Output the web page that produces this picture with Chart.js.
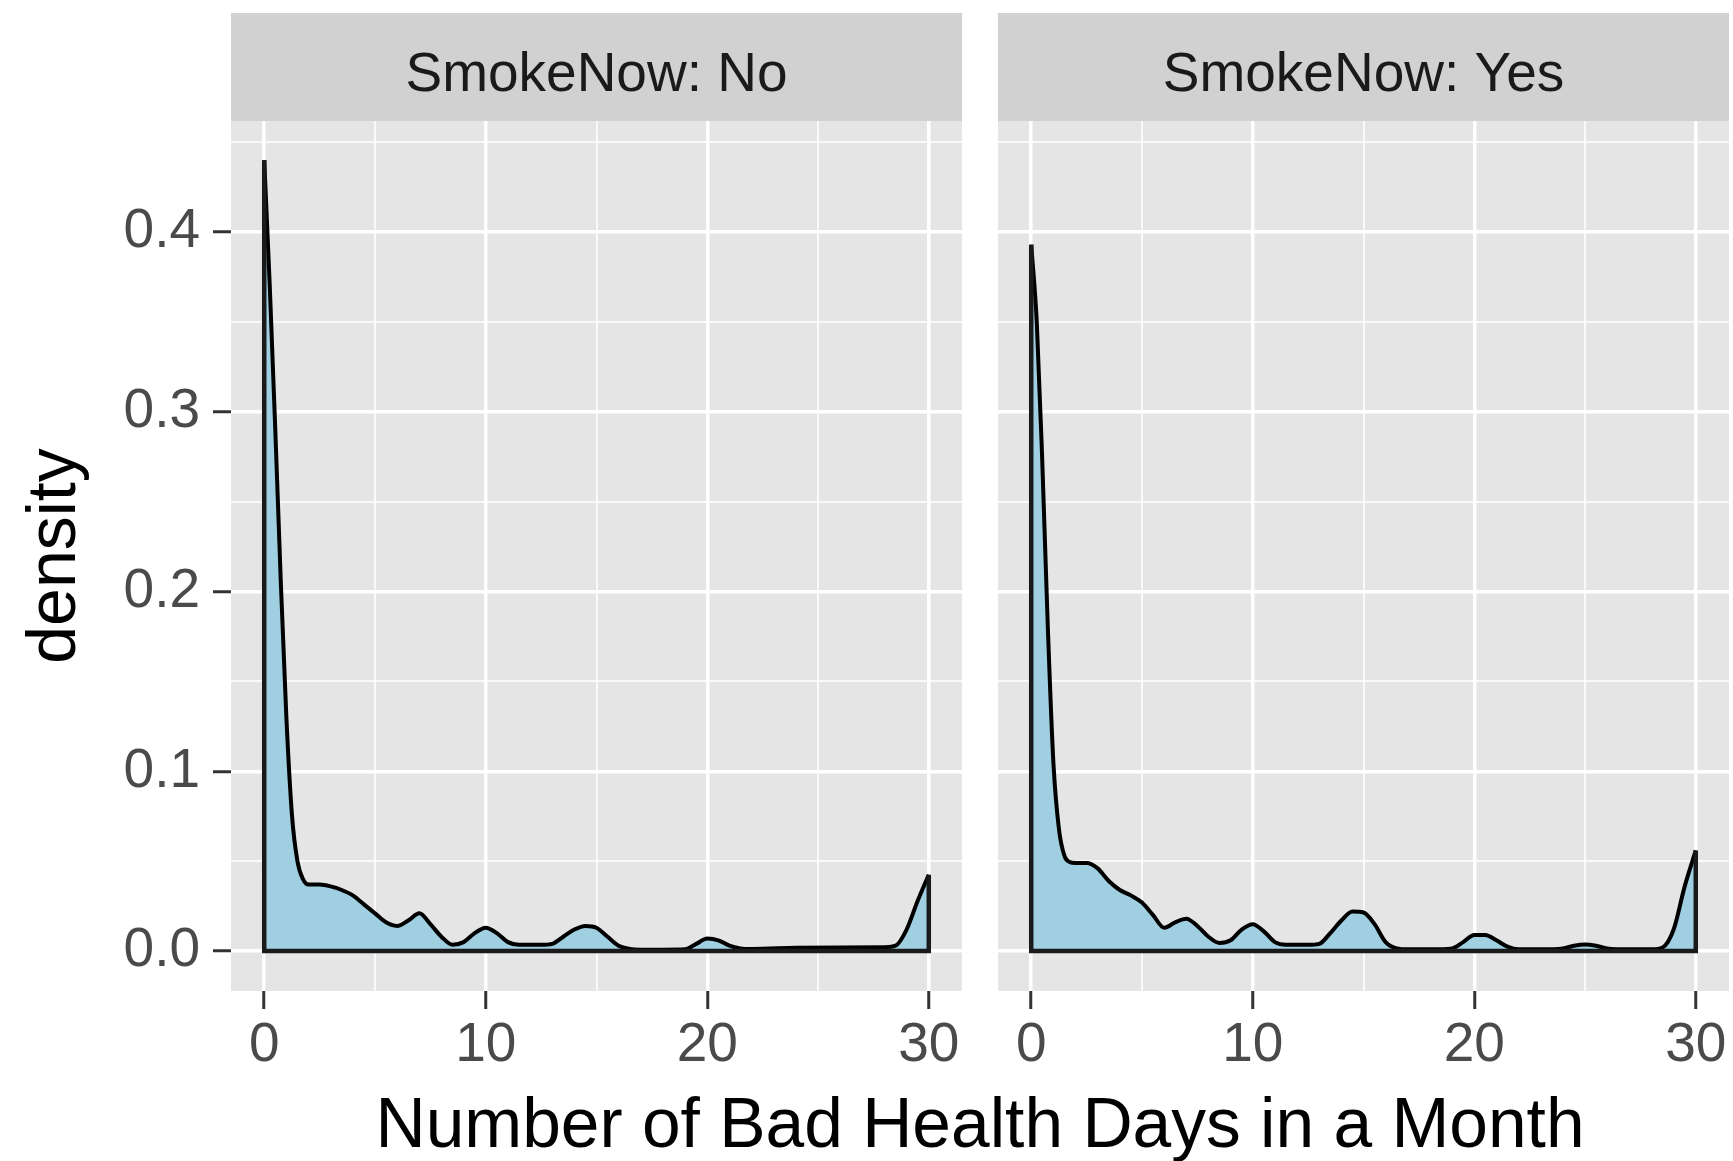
<!DOCTYPE html>
<html><head><meta charset="utf-8">
<script src="https://cdn.jsdelivr.net/npm/chart.js@4.4.1/dist/chart.umd.min.js"></script>
<style>
html,body{margin:0;padding:0;background:#fff;overflow:hidden;width:1733px;height:1161px;}
#wrapA{position:absolute;left:0;top:0;width:980px;height:1161px;}
#wrapB{position:absolute;left:980px;top:0;width:753px;height:1161px;}
#xtitle{position:absolute;left:230px;width:1500px;top:1089px;height:69px;line-height:69px;text-align:center;font-family:"Liberation Sans",Arial,sans-serif;font-size:69.5px;color:#000;white-space:nowrap;}
</style></head><body>
<div id="wrapA"><canvas id="cA" width="980" height="1161"></canvas></div>
<div id="wrapB"><canvas id="cB" width="753" height="1161"></canvas></div>
<div id="xtitle"></div>
<script>
// ---- data ----
const panelLabels = ["SmokeNow: No", "SmokeNow: Yes"];
const xTitle = "Number of Bad Health Days in a Month";
const yTitle = "density";

const daysNo = [0, 0.25, 0.5, 0.75, 1.0, 1.25, 1.5, 1.75, 2.0, 2.5, 3.0, 3.5, 4.0, 4.5, 5.0, 5.5, 6.0, 6.5, 7.0, 7.5, 8.0, 8.5, 9.0, 9.5, 10.0, 10.5, 11.0, 11.5, 12.0, 12.5, 13.0, 13.5, 14.0, 14.5, 15.0, 15.5, 16.0, 16.5, 17, 18, 19, 19.5, 20.0, 20.5, 21.0, 21.5, 22, 24, 26, 28, 28.5, 29.0, 29.5, 30];
const densityNo = [0.440, 0.370, 0.290, 0.205, 0.130, 0.076, 0.050, 0.040, 0.037, 0.037, 0.036, 0.034, 0.031, 0.026, 0.021, 0.016, 0.014, 0.017, 0.021, 0.015, 0.008, 0.0035, 0.005, 0.010, 0.013, 0.010, 0.005, 0.0035, 0.0035, 0.0035, 0.004, 0.008, 0.012, 0.014, 0.013, 0.008, 0.003, 0.0012, 0.0008, 0.0008, 0.001, 0.004, 0.007, 0.006, 0.003, 0.0015, 0.0012, 0.0018, 0.002, 0.0022, 0.003, 0.012, 0.028, 0.0425];

const daysYes = [0, 0.25, 0.5, 0.75, 1.0, 1.25, 1.5, 1.75, 2.0, 2.5, 3.0, 3.5, 4.0, 4.5, 5.0, 5.5, 6.0, 6.5, 7.0, 7.5, 8.0, 8.5, 9.0, 9.5, 10.0, 10.5, 11.0, 11.5, 12.0, 12.5, 13.0, 13.5, 14.0, 14.5, 15.0, 15.5, 16.0, 16.5, 17, 18, 19, 19.5, 20, 20.5, 21, 21.5, 22, 23, 24, 24.5, 25, 25.5, 26, 27, 28, 28.5, 29, 29.5, 30];
const densityYes = [0.393, 0.350, 0.272, 0.180, 0.105, 0.068, 0.053, 0.0495, 0.049, 0.049, 0.046, 0.039, 0.034, 0.031, 0.027, 0.020, 0.013, 0.016, 0.018, 0.014, 0.008, 0.0045, 0.006, 0.012, 0.015, 0.011, 0.005, 0.0035, 0.0035, 0.0035, 0.004, 0.010, 0.017, 0.022, 0.0215, 0.015, 0.005, 0.0015, 0.001, 0.001, 0.0015, 0.005, 0.009, 0.009, 0.006, 0.0025, 0.001, 0.001, 0.0015, 0.003, 0.0037, 0.003, 0.0015, 0.001, 0.001, 0.002, 0.012, 0.036, 0.056];

const xMajorTicks = [0, 10, 20, 30];
const xMinorTicks = [5, 15, 25];
const yMajorTicks = [0, 0.1, 0.2, 0.3, 0.4];
const yMinorTicks = [0.05, 0.15, 0.25, 0.35, 0.45];
const xRange = [-1.5, 31.5];
const yRange = [-0.0222, 0.4618];

// ---- styling ----
const FONT = '"Liberation Sans", Arial, Helvetica, sans-serif';
const PANEL_BG = '#E5E5E5';
const STRIP_BG = '#D1D1D1';
const FILL = '#9FCFE0';
document.getElementById('xtitle').textContent = xTitle;

function tickList(major, minor) {
  return major.map(v => ({value: v, isMinor: false}))
    .concat(minor.map(v => ({value: v, isMinor: true})))
    .sort((a, b) => a.value - b.value);
}

const panelPlugin = {
  id: 'panelDecor',
  beforeDraw(chart, args, opts) {
    const {ctx, chartArea} = chart;
    ctx.save();
    ctx.fillStyle = PANEL_BG;
    ctx.fillRect(chartArea.left, chartArea.top, chartArea.right - chartArea.left, chartArea.bottom - chartArea.top);
    ctx.fillStyle = STRIP_BG;
    ctx.fillRect(chartArea.left, 13, chartArea.right - chartArea.left, chartArea.top - 13);
    ctx.fillStyle = '#1A1A1A';
    ctx.font = '55px ' + FONT;
    ctx.textAlign = 'center';
    ctx.textBaseline = 'alphabetic';
    ctx.fillText(opts.label, (chartArea.left + chartArea.right) / 2, 91);
    ctx.restore();
  }
};

function makePanel(id, xs, ys, label, isLeft, padRight, yAxisWidth) {
  const curve = xs.map((x, i) => ({x: x, y: ys[i]}));
  const n = xs.length - 1;
  const edges = [
    {x: xs[0], y: ys[0]}, {x: xs[0], y: 0},
    {x: xs[n], y: 0}, {x: xs[n], y: ys[n]}
  ];
  return new Chart(document.getElementById(id), {
    type: 'line',
    data: {
      datasets: [
        {data: edges, borderColor: '#1a1a1a', borderWidth: 4.5, fill: false, pointRadius: 0,
         tension: 0, borderJoinStyle: 'miter', order: 0},
        {data: curve, borderColor: '#000', borderWidth: 4, backgroundColor: FILL,
         fill: 'origin', pointRadius: 0, cubicInterpolationMode: 'monotone', order: 1}
      ]
    },
    plugins: [panelPlugin],
    options: {
      responsive: false,
      animation: false,
      devicePixelRatio: 1,
      layout: {padding: {top: 121, right: padRight, bottom: 0, left: 0}},
      plugins: {legend: {display: false}, tooltip: {enabled: false}, panelDecor: {label: label}},
      scales: {
        x: {
          type: 'linear', min: xRange[0], max: xRange[1],
          afterBuildTicks: s => { s.ticks = tickList(xMajorTicks, xMinorTicks); },
          afterFit: s => { s.height = 170; },
          border: {display: false},
          grid: {
            color: c => (c.tick && c.tick.isMinor) ? 'rgba(255,255,255,0.75)' : '#FFFFFF',
            lineWidth: c => (c.tick && c.tick.isMinor) ? 2 : 3.5,
            drawTicks: true, tickLength: 18, tickWidth: 3,
            tickColor: c => (c.tick && c.tick.isMinor) ? 'rgba(0,0,0,0)' : '#333333'
          },
          ticks: {
            autoSkip: false, maxRotation: 0, padding: 4, color: '#4A4A4A',
            font: {family: FONT, size: 55},
            callback: (v, i, t) => t[i].isMinor ? '' : String(v)
          }
        },
        y: {
          type: 'linear', min: yRange[0], max: yRange[1],
          afterBuildTicks: s => { s.ticks = tickList(yMajorTicks, yMinorTicks); },
          afterFit: s => { s.width = yAxisWidth; },
          border: {display: false},
          title: {display: isLeft, text: yTitle, color: '#000',
                  font: {family: FONT, size: 68}, padding: {top: 15, bottom: 0}},
          grid: {
            color: c => (c.tick && c.tick.isMinor) ? 'rgba(255,255,255,0.75)' : '#FFFFFF',
            lineWidth: c => (c.tick && c.tick.isMinor) ? 2 : 3.5,
            drawTicks: isLeft, tickLength: 18, tickWidth: 3,
            tickColor: c => (c.tick && c.tick.isMinor) ? 'rgba(0,0,0,0)' : '#333333'
          },
          ticks: {
            display: isLeft, autoSkip: false, padding: 13, color: '#4A4A4A',
            font: {family: FONT, size: 55},
            callback: (v, i, t) => t[i].isMinor ? '' : v.toFixed(1)
          }
        }
      }
    }
  });
}

makePanel('cA', daysNo, densityNo, panelLabels[0], true, 18, 231);
makePanel('cB', daysYes, densityYes, panelLabels[1], false, 4, 18);
</script>
</body></html>
